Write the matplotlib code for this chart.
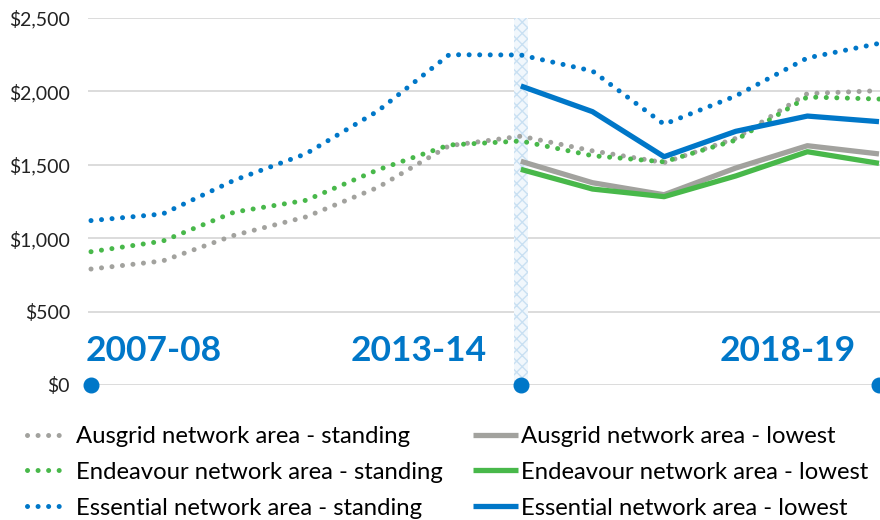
"""
Retail electricity bills, NSW network areas: standing offer vs lowest offer.
"""

import numpy as np
import matplotlib.pyplot as plt
from matplotlib.lines import Line2D

plt.rcParams['font.family'] = ['Lato', 'DejaVu Sans']

# --- Data ---
years = ['2007-08', '2008-09', '2009-10', '2010-11', '2011-12', '2012-13',
         '2013-14', '2014-15', '2015-16', '2016-17', '2017-18', '2018-19']

ausgrid_standing   = [790, 845, 1020, 1145, 1345, 1630, 1695, 1595, 1515, 1680, 1985, 2005]
endeavour_standing = [908, 980, 1178, 1258, 1465, 1635, 1662, 1562, 1520, 1668, 1962, 1948]
essential_standing = [1120, 1165, 1395, 1575, 1865, 2250, 2248, 2139, 1776, 1969, 2228, 2327]

low_years = years[6:]
ausgrid_lowest   = [1524, 1378, 1296, 1478, 1630, 1574]
endeavour_lowest = [1469, 1335, 1283, 1424, 1589, 1510]
essential_lowest = [2037, 1862, 1555, 1728, 1832, 1794]

marked_years = ['2007-08', '2013-14', '2018-19']
yticks = [0, 500, 1000, 1500, 2000, 2500]

# --- Palette ---
GREY  = '#a2a29e'
GREEN = '#48b84a'
BLUE  = '#0077c8'

fig = plt.figure(figsize=(8.8, 5.2), dpi=100)
ax = fig.add_axes([88 / 880, 1 - 385 / 520, 792 / 880, (385 - 18) / 520])

x_all = np.arange(len(years))
x_low = np.array([years.index(y) for y in low_years])

DOT = dict(lw=3.6, linestyle=(0, (0.01, 2.1)), dash_capstyle='round')
SOLID = dict(lw=3.8, solid_capstyle='butt', solid_joinstyle='round')

# Hatched marker band at 2013-14
i13 = years.index('2013-14')
ax.axvspan(i13 - 0.1, i13 + 0.1, ymin=0, ymax=1, facecolor='#f1f7fc',
           edgecolor='#c9e0f2', hatch='xxx', lw=0, zorder=1)

ax.plot(x_all, ausgrid_standing,   color=GREY,  zorder=3, **DOT)
ax.plot(x_all, endeavour_standing, color=GREEN, zorder=3, **DOT)
ax.plot(x_all, essential_standing, color=BLUE,  zorder=3, **DOT)
ax.plot(x_low, ausgrid_lowest,   color=GREY,  zorder=4, **SOLID)
ax.plot(x_low, endeavour_lowest, color=GREEN, zorder=4, **SOLID)
ax.plot(x_low, essential_lowest, color=BLUE,  zorder=4, **SOLID)

# Year markers on the baseline
mx = [years.index(y) for y in marked_years]
ax.plot(mx, [0] * len(mx), 'o', color=BLUE, markersize=10.5, clip_on=False, zorder=6)

# Year labels
label_x = {'2007-08': -0.08, '2013-14': 3.62, '2018-19': 8.78}
for y in marked_years:
    ax.text(label_x[y], 235, y, fontsize=25.5, fontweight='bold', color=BLUE,
            ha='left', va='center', zorder=6)

# --- Axes styling ---
ax.set_xlim(-3 / 71.64, 11 + 1 / 71.64)
ax.set_ylim(0, 2500)
ax.set_xticks([])
ax.set_yticks(yticks)
ax.set_yticklabels([f'${v:,}' for v in yticks], fontsize=14, color='#222222')
ax.tick_params(axis='y', length=0, pad=13)
ax.yaxis.grid(True, color='#dcdcdc', lw=1.4)
ax.set_axisbelow(True)
for s in ax.spines.values():
    s.set_visible(False)

# --- Legends ---
h_std = [Line2D([], [], color=c, **DOT) for c in (GREY, GREEN, BLUE)]
h_low = [Line2D([], [], color=c, **SOLID) for c in (GREY, GREEN, BLUE)]
lab_std = ['Ausgrid network area - standing', 'Endeavour network area - standing',
           'Essential network area - standing']
lab_low = ['Ausgrid network area - lowest', 'Endeavour network area - lowest',
           'Essential network area - lowest']

LEG = dict(frameon=False, fontsize=17.2, labelspacing=0.62, borderaxespad=0,
           borderpad=0, loc='upper left')
fig.legend(h_std, lab_std, bbox_to_anchor=(27 / 880, 1 - 426 / 520),
           handlelength=1.5, handletextpad=0.55, **LEG)
fig.legend(h_low, lab_low, bbox_to_anchor=(473 / 880, 1 - 426 / 520),
           handlelength=1.88, handletextpad=0.12, **LEG)

fig.savefig('out.png', dpi=100)
